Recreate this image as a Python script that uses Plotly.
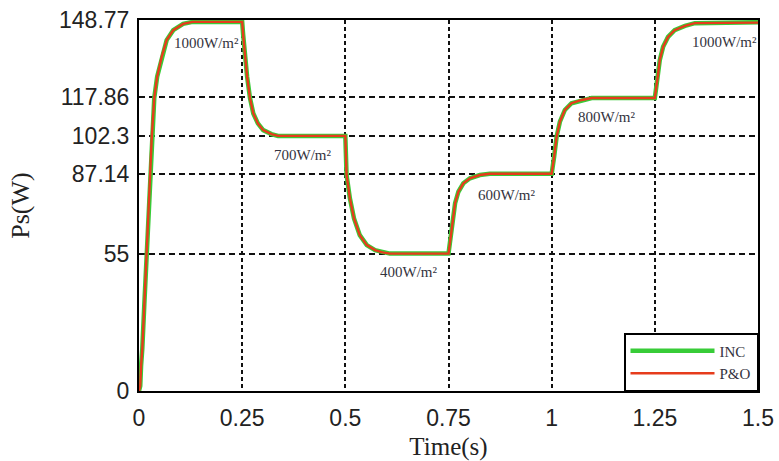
import plotly.graph_objects as go

# ---- data ----
time_s = [0, 0.003, 0.005, 0.008, 0.013, 0.019, 0.023, 0.027, 0.031, 0.037, 0.044, 0.055,
          0.067, 0.083, 0.107, 0.13, 0.15, 0.25,
          0.2525, 0.257, 0.262, 0.269, 0.277, 0.288, 0.301, 0.321, 0.337, 0.5,
          0.501, 0.503, 0.511, 0.521, 0.535, 0.552, 0.572, 0.59, 0.608, 0.75,
          0.7555, 0.76, 0.766, 0.774, 0.786, 0.802, 0.826, 0.85, 1.0,
          1.006, 1.012, 1.02, 1.032, 1.048, 1.073, 1.097, 1.25,
          1.257, 1.262, 1.27, 1.282, 1.298, 1.323, 1.347, 1.5]

inc_power = [0, 2, 10, 17, 35, 55, 70, 87, 102, 117.5, 126, 134,
             140.7, 144.7, 147.2, 148.0, 148.0, 148.0,
             142.7, 134, 126, 117.4, 111.3, 107.3, 104.6, 103, 102.3, 102.3,
             93.3, 86.6, 77.3, 69.2, 62.5, 58.5, 56.5, 55.6, 55.1, 55.1,
             61.9, 68.6, 75.3, 79.9, 83.3, 85.3, 86.6, 87.1, 87.1,
             94, 102, 108, 112.7, 115.4, 116.7, 117.5, 117.5,
             126, 132.7, 138, 142, 144.7, 146.4, 147.5, 147.9]

po_power = [0, 2, 10, 17, 35, 55, 70, 87, 102, 117.5, 126, 134,
            140.7, 144.7, 147.2, 148.0, 148.0, 148.0,
            142.7, 134, 126, 117.4, 111.3, 107.3, 104.6, 103, 102.3, 102.3,
            93.3, 86.6, 77.3, 69.2, 62.5, 58.5, 56.5, 55.6, 55.1, 55.1,
            61.9, 68.6, 75.3, 79.9, 83.3, 85.3, 86.6, 87.1, 87.1,
            94, 102, 108, 112.7, 115.4, 116.7, 117.5, 117.5,
            126, 132.7, 138, 142, 144.7, 146.4, 147.5, 147.7]

x_ticks = [0, 0.25, 0.5, 0.75, 1, 1.25, 1.5]
x_tick_text = ["0", "0.25", "0.5", "0.75", "1", "1.25", "1.5"]
y_ticks = [0, 55, 87.14, 102.3, 117.86, 148.77]
y_tick_text = ["0", "55", "87.14", "102.3", "117.86", "148.77"]

label_text = ["1000W/m²", "700W/m²", "400W/m²", "600W/m²", "800W/m²", "1000W/m²"]
label_t = [0.164, 0.396, 0.653, 0.890, 1.133, 1.418]
label_p = [139.4, 94.6, 47.8, 78.6, 110.0, 140.0]

SERIF = "Liberation Serif, Times New Roman, serif"
SANS = "Liberation Sans, Arial, sans-serif"

fig = go.Figure()
fig.add_trace(go.Scatter(x=time_s, y=inc_power, mode="lines", name="INC",
                         line=dict(color="#38cc38", width=4.5)))
fig.add_trace(go.Scatter(x=time_s, y=po_power, mode="lines", name="P&O",
                         line=dict(color="#e63c1c", width=2.4)))

for txt, tx, py in zip(label_text, label_t, label_p):
    fig.add_annotation(x=tx, y=py, text=txt, showarrow=False,
                       font=dict(family=SERIF, size=15, color="#333340"))

fig.update_layout(
    width=779, height=461,
    margin=dict(l=139, r=21, t=20, b=70),
    paper_bgcolor="white", plot_bgcolor="white",
    showlegend=True,
    legend=dict(x=1, y=0, xanchor="right", yanchor="bottom",
                bgcolor="white", bordercolor="black", borderwidth=1.5,
                font=dict(family=SERIF, size=15, color="#333340"),
                itemwidth=84, tracegroupgap=0),
)
fig.update_xaxes(
    range=[0, 1.5], tickvals=x_ticks, ticktext=x_tick_text, automargin=False,
    showline=True, linecolor="black", linewidth=2, mirror=True,
    showgrid=True, gridcolor="#111", gridwidth=1.6, griddash="4px,3px",
    zeroline=False, ticks="", ticklabelstandoff=5,
    tickfont=dict(family=SANS, size=23, color="#222"),
    title=dict(text="Time(s)", font=dict(family=SERIF, size=25, color="#222"), standoff=14),
)
fig.update_yaxes(
    range=[0, 148.77], tickvals=y_ticks, ticktext=y_tick_text, automargin=False,
    showline=True, linecolor="black", linewidth=2, mirror=True,
    showgrid=True, gridcolor="#111", gridwidth=1.6, griddash="6px,4px",
    zeroline=False, ticks="", ticklabelstandoff=3,
    tickfont=dict(family=SANS, size=23, color="#222"),
    title=dict(text="Ps(W)", font=dict(family=SERIF, size=26, color="#222"), standoff=22),
)

fig.write_html("out.html")
